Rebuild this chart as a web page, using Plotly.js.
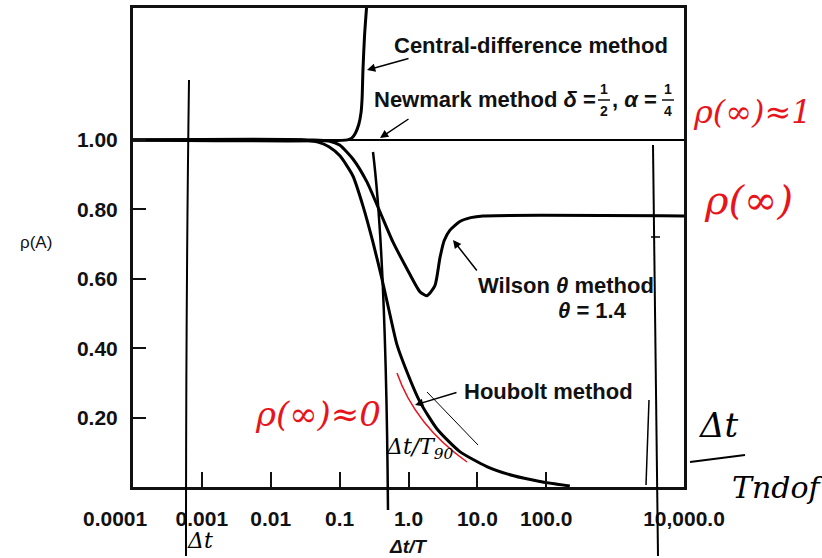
<!DOCTYPE html>
<html><head><meta charset="utf-8">
<script src="https://cdn.plot.ly/plotly-3.0.1.min.js"></script>
<style>html,body{margin:0;padding:0;background:#fff}</style>
</head><body><div id="chart" style="width:822px;height:558px"></div>
<script>
// ---- data ----
const xTickVals = [0.0001, 0.001, 0.01, 0.1, 1, 10, 100, 10000];
const xTickText = ["", "0.001", "0.01", "0.1", "1.0", "10.0", "100.0", "10,000.0"];
const yTickVals = [0.2, 0.4, 0.6, 0.8, 1.0];
const yTickText = ["0.20", "0.40", "0.60", "0.80", "1.00"];

const newmarkX = [0.0001, 10000];
const newmarkRho = [1, 1];

const centralX = [0.0001, 0.13, 0.15, 0.17, 0.19, 0.205, 0.212, 0.218, 0.23, 0.25];
const centralRho = [1, 1, 1.005, 1.02, 1.045, 1.08, 1.12, 1.2, 1.3, 1.4];

const wilsonX = [0.0001, 0.04, 0.07, 0.1, 0.156, 0.249, 0.385, 0.594, 0.948, 1.46, 1.85, 2.42, 2.86, 3.3, 4.0, 5.57, 8, 12, 10000];
const wilsonRho = [1, 1, 0.997, 0.985, 0.945, 0.879, 0.793, 0.706, 0.629, 0.563, 0.551, 0.58, 0.66, 0.71, 0.74, 0.765, 0.776, 0.781, 0.781];

const houboltX = [0.0001, 0.03, 0.05, 0.07, 0.101, 0.156, 0.218, 0.304, 0.411, 0.52, 0.68, 0.948, 1.46, 2.58, 5.57, 13.7, 32.7, 80.7, 220];
const houboltRho = [1, 1, 0.993, 0.98, 0.954, 0.896, 0.81, 0.706, 0.6, 0.51, 0.41, 0.332, 0.246, 0.168, 0.102, 0.059, 0.033, 0.016, 0.003];

// ---- layout helpers (pixel -> paper) ----
const L = 133, R = 684, T = 8, B = 487;
const PX = px => (px - L) / (R - L);
const PY = py => (B - py) / (B - T);

const FONT = "Liberation Sans, Arial, sans-serif";
const HAND = "DejaVu Serif, serif";

const curve = (x, y, w) => ({x: x, y: y, type: 'scatter', mode: 'lines',
  line: {color: '#000', width: w, shape: 'spline', smoothing: 0.6}, hoverinfo: 'skip', showlegend: false});

const traces = [
  curve(newmarkX, newmarkRho, 2),
  curve(centralX, centralRho, 3),
  curve(wilsonX, wilsonRho, 3),
  curve(houboltX, houboltRho, 3)
];

function txt(text, px, py, size, opts) {
  const o = Object.assign({xanchor: 'left', yanchor: 'middle', color: '#111', weight: 'bold', family: FONT}, opts || {});
  return {xref: 'paper', yref: 'paper', x: PX(px), y: PY(py), text: text, showarrow: false,
    xanchor: o.xanchor, yanchor: o.yanchor, textangle: o.angle || 0,
    font: {family: o.family, size: size, color: o.color, weight: o.weight, style: o.style || 'normal'}};
}
function arrow(hx, hy, tx, ty) {
  return {xref: 'paper', yref: 'paper', x: PX(hx), y: PY(hy), ax: tx - hx, ay: ty - hy,
    axref: 'pixel', ayref: 'pixel', text: '', showarrow: true, arrowhead: 2, arrowsize: 1.1,
    arrowwidth: 1.5, arrowcolor: '#000'};
}
const red = {color: '#e8141c', weight: 'normal', family: HAND, style: 'italic', xanchor: 'center'};
const ink = {color: '#000', weight: 'normal', family: HAND, style: 'italic', xanchor: 'center'};

const annotations = [
  txt('0.0001', 115, 518, 21, {xanchor: 'center'}),
  txt('ρ(A)', 36, 243, 17, {xanchor: 'center', weight: 'normal'}),
  txt('<i>Δt/T</i>', 408, 546, 19, {xanchor: 'center'}),
  txt('Central-difference method', 392, 45, 22),
  txt('Newmark method <i>δ</i> =', 372, 99, 22),
  txt('1', 604, 89, 14, {xanchor: 'center'}),
  txt('2', 604, 111, 14, {xanchor: 'center'}),
  txt(', <i>α</i> =', 610, 99, 22),
  txt('1', 668, 89, 14, {xanchor: 'center'}),
  txt('4', 668, 111, 14, {xanchor: 'center'}),
  txt('Wilson <i>θ</i> method', 476, 285, 22),
  txt('<i>θ</i> = 1.4', 556, 310, 22),
  txt('Houbolt method', 462, 391, 22),
  arrow(367, 70, 410, 58),
  arrow(380, 138, 410, 118),
  arrow(453, 240, 478, 272),
  arrow(415, 405, 458, 392),
  // handwritten notes
  txt('ρ(∞)≈0', 318, 414, 34, red),
  txt('ρ(∞)≈1', 752, 112, 32, red),
  txt('ρ(∞)', 748, 200, 40, red),
  txt('Δt/T<sub>90</sub>', 420, 448, 22, ink),
  txt('Δt', 718, 425, 34, ink),
  txt('Tndof', 778, 487, 30, ink),
  txt('Δt', 200, 540, 22, ink)
];

function pathPx(cmds) {
  return cmds.map(c => c[0] + ' ' + c.slice(1).reduce((a, v, i, arr) => {
    if (i % 2 === 0) a.push(PX(v) + ',' + PY(arr[i + 1]));
    return a;
  }, []).join(' ')).join(' ');
}
function hline(px1, py1, px2, py2, color, w) {
  return {type: 'line', xref: 'paper', yref: 'paper', x0: PX(px1), y0: PY(py1), x1: PX(px2), y1: PY(py2),
    line: {color: color, width: w}};
}
function hpath(cmds, color, w) {
  return {type: 'path', xref: 'paper', yref: 'paper', path: pathPx(cmds), line: {color: color, width: w}};
}

const shapes = [
  hline(598, 100, 610, 100, '#111', 1.5),
  hline(662, 100, 674, 100, '#111', 1.5),
  hpath([['M', 189, 80], ['Q', 186, 300, 186, 556]], '#000', 2),
  hpath([['M', 373, 152], ['Q', 386, 260, 388, 510]], '#000', 2.5),
  hpath([['M', 653, 145], ['L', 658, 556]], '#000', 2),
  hline(651, 237, 660, 237, '#000', 1.5),
  hpath([['M', 649, 400], ['L', 646, 485]], '#000', 1.5),
  hline(427, 392, 478, 445, '#000', 1),
  hpath([['M', 397, 373], ['Q', 415, 425, 467, 462]], '#e8141c', 1.5),
  hline(690, 462, 745, 455, '#000', 2)
];

const layout = {
  width: 822, height: 558,
  margin: {l: L, r: 822 - R, t: T, b: 558 - B},
  paper_bgcolor: '#fff', plot_bgcolor: '#fff',
  showlegend: false,
  xaxis: {type: 'log', range: [-4, 4], tickvals: xTickVals, ticktext: xTickText,
    ticks: 'inside', ticklen: 15, tickwidth: 2, tickcolor: '#111',
    showline: true, mirror: true, linewidth: 3, linecolor: '#111',
    showgrid: false, zeroline: false, ticklabelstandoff: 11,
    tickfont: {family: FONT, size: 21, color: '#111', weight: 'bold'}},
  yaxis: {range: [0, 1.38], tickvals: yTickVals, ticktext: yTickText,
    ticks: 'inside', ticklen: 13, tickwidth: 2, tickcolor: '#111',
    showline: true, mirror: true, linewidth: 3, linecolor: '#111',
    showgrid: false, zeroline: false, ticklabelstandoff: 8,
    tickfont: {family: FONT, size: 21, color: '#111', weight: 'bold'}},
  annotations: annotations,
  shapes: shapes
};

Plotly.newPlot('chart', traces, layout, {displayModeBar: false, staticPlot: true});
</script>
</body></html>
